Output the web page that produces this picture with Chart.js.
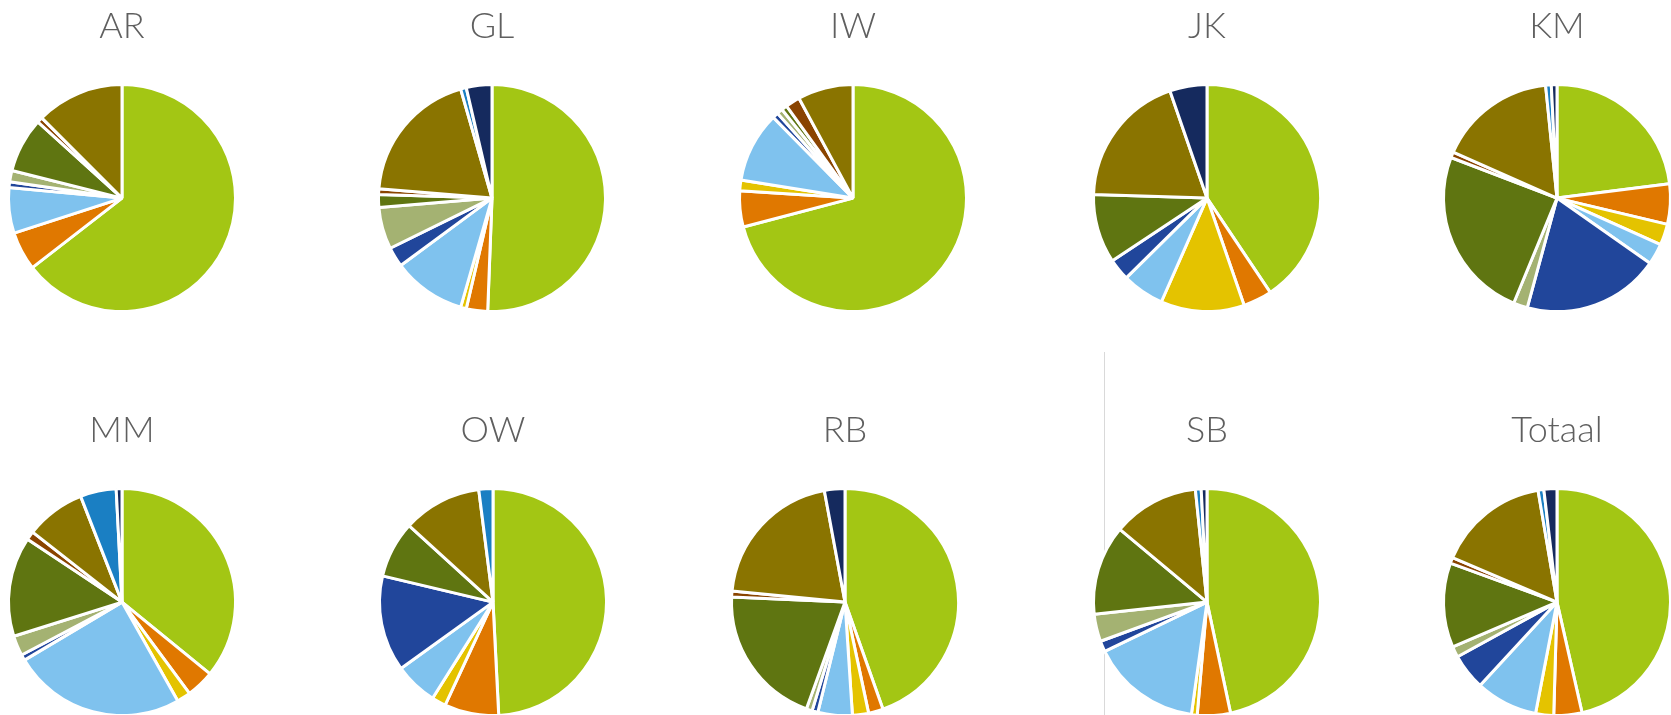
<!DOCTYPE html>
<html>
<head>
<meta charset="utf-8">
<title>Verdeling per locatie</title>
<script src="https://cdn.jsdelivr.net/npm/chart.js@4/dist/chart.umd.min.js"></script>
<style>
  html, body { margin: 0; padding: 0; background: #fff; }
  body { width: 1671px; height: 715px; position: relative; overflow: hidden; }
  .pie { position: absolute; }
  .divider { position: absolute; left: 1104px; top: 352px; width: 1px; height: 363px; background: #d9d9d9; }
</style>
</head>
<body>
<div class="divider"></div>
<script>
// categories (legend is not shown in the picture)
const categories = ['Cat 1', 'Cat 2', 'Cat 3', 'Cat 4', 'Cat 5', 'Cat 6', 'Cat 7', 'Cat 8', 'Cat 9', 'Cat 10', 'Cat 11'];
const sliceColors = ['#A3C614', '#E07800', '#E4C300', '#7FC2EE', '#21469B', '#A4B272', '#5F7511', '#8A4400', '#8A7400', '#1A7FC3', '#152A5E'];

// share per category (%)
const AR     = [64.5, 5.5, 0,   6.5,  0.8,  1.6, 7.8,  0.8, 12.5, 0,   0];
const GL     = [50,   3,   0.8, 10.3, 2.8,  5.9, 1.8,  0.8, 19,   0.8, 3.6];
const IW     = [69.2, 5,   1.5, 9.8,  0.8,  0.8, 0.8,  2,   7.7,  0,   0];
const JK     = [40.6, 4.1, 11.9, 6,   3.1,  0,   9.8,  0,   19.2, 0,   5.3];
const KM     = [22.9, 5.7, 3,   3,    19.4, 2,   24.5, 0.8, 16.7, 0.8, 0.8];
const MM     = [35.1, 3.9, 1.9, 24.1, 0.8,  2.8, 13.9, 1.2, 8.3,  5,   0.8];
const OW     = [49,   7.7, 2,   6.1,  13.6, 0,   8,    0,   11.2, 2,   0];
const RB     = [42.8, 2,   2.2, 4.7,  0.8,  0.8, 19.4, 0.8, 19.7, 0,   2.8];
const SB     = [45.6, 4.6, 0.8, 15.3, 1.5,  3.8, 12.5, 0,   12,   0.8, 0.8];
const Totaal = [45.2, 3.9, 2.5, 8.6,  5,    1.5, 11.7, 0.8, 15.5, 0.8, 1.8];

const panels = [
  { title: 'AR', data: AR, cx: 122, top: 0 },
  { title: 'GL', data: GL, cx: 492, top: 0 },
  { title: 'IW', data: IW, cx: 853, top: 0 },
  { title: 'JK', data: JK, cx: 1207, top: 0 },
  { title: 'KM', data: KM, cx: 1557, top: 0 },
  { title: 'MM', data: MM, cx: 122, top: 404 },
  { title: 'OW', data: OW, cx: 493, top: 404 },
  { title: 'RB', data: RB, cx: 845, top: 404 },
  { title: 'SB', data: SB, cx: 1207, top: 404 },
  { title: 'Totaal', data: Totaal, cx: 1557, top: 404 }
];

const W = 240, H = 310;

panels.forEach(p => {
  const canvas = document.createElement('canvas');
  canvas.className = 'pie';
  canvas.width = W;
  canvas.height = H;
  canvas.style.left = (p.cx - W / 2) + 'px';
  canvas.style.top = p.top + 'px';
  canvas.style.width = W + 'px';
  canvas.style.height = H + 'px';
  document.body.appendChild(canvas);

  new Chart(canvas, {
    type: 'pie',
    data: {
      labels: categories,
      datasets: [{
        data: p.data,
        backgroundColor: sliceColors,
        borderColor: '#ffffff',
        borderWidth: 3
      }]
    },
    options: {
      responsive: false,
      animation: false,
      devicePixelRatio: 1,
      radius: 113.5,
      layout: { padding: 0 },
      plugins: {
        legend: { display: false },
        tooltip: { enabled: false },
        title: {
          display: true,
          text: p.title,
          color: '#5f5f5f',
          font: { family: 'Lato, "Open Sans", sans-serif', size: 36, weight: '300', lineHeight: 1.2 },
          padding: { top: 5, bottom: 38 }
        }
      }
    }
  });
});
</script>
</body>
</html>
